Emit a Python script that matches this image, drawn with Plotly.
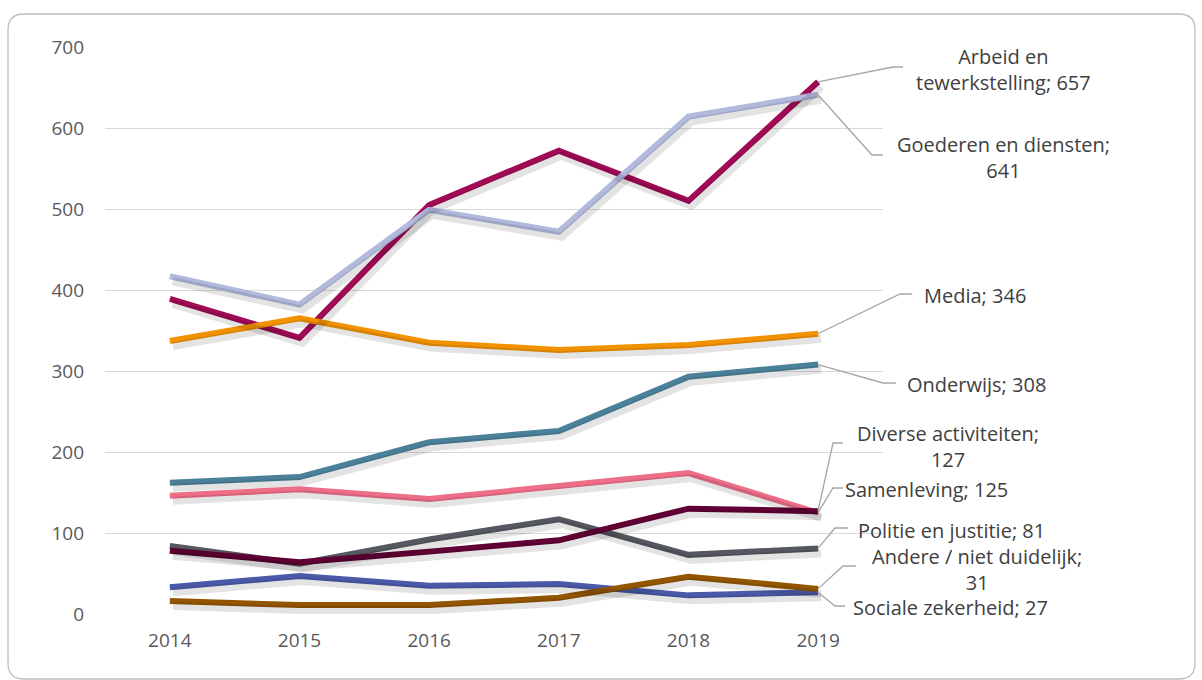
import plotly.graph_objects as go

years = ["2014", "2015", "2016", "2017", "2018", "2019"]

arbeid = [389, 341, 505, 572, 510, 657]
goederen = [417, 382, 499, 472, 614, 641]
media = [337, 365, 335, 326, 332, 346]
onderwijs = [162, 169, 212, 226, 293, 308]
samenleving = [146, 154, 142, 158, 174, 125]
politie = [84, 62, 92, 117, 73, 81]
diverse = [78, 64, 77, 91, 130, 127]
sociale = [33, 47, 35, 37, 23, 27]
andere = [16, 11, 11, 20, 46, 31]

series = [
    ("Arbeid en tewerkstelling", arbeid, "#A10A55"),
    ("Goederen en diensten", goederen, "#B1B9DD"),
    ("Media", media, "#F39200"),
    ("Onderwijs", onderwijs, "#4A8099"),
    ("Samenleving", samenleving, "#EE6E88"),
    ("Politie en justitie", politie, "#55585F"),
    ("Diverse activiteiten", diverse, "#600034"),
    ("Sociale zekerheid", sociale, "#4B5AA8"),
    ("Andere / niet duidelijk", andere, "#935500"),
]

# label text, label anchor position (pixels), leader path (pixels, after the data point)
labels = {
    "Arbeid en tewerkstelling": ("Arbeid en<br>tewerkstelling; 657", 1003, 69, "center", [(893, 67), (903, 67)]),
    "Goederen en diensten": ("Goederen en diensten;<br>641", 1003, 157, "center", [(872, 155), (883, 155)]),
    "Media": ("Media; 346", 922, 295, "left", [(900, 294), (912, 294)]),
    "Onderwijs": ("Onderwijs; 308", 905, 384, "left", [(883, 383), (896, 383)]),
    "Diverse activiteiten": ("Diverse activiteiten;<br>127", 948, 446, "center", [(833, 443), (843, 443)]),
    "Samenleving": ("Samenleving; 125", 843, 489, "left", [(833, 488), (843, 488)]),
    "Politie en justitie": ("Politie en justitie; 81", 856, 530, "left", [(835, 528), (848, 528)]),
    "Andere / niet duidelijk": ("Andere / niet duidelijk;<br>31", 977, 569, "center", [(843, 566), (856, 566)]),
    "Sociale zekerheid": ("Sociale zekerheid; 27", 851, 607, "left", [(835, 606), (845, 606)]),
}

W, H = 1202, 680
L, R, T, B = 105, 883, 47, 614
YMAX = 700
FONT = "Open Sans, sans-serif"


def px(x):
    return (x - L) / (R - L)


def py(y):
    return (B - y) / (B - T)


fig = go.Figure()

# soft drop shadows drawn on slightly offset overlay axes
for name, vals, col in series:
    fig.add_trace(go.Scatter(x=years, y=vals, mode="lines", xaxis="x2", yaxis="y2",
                             line=dict(color="rgba(0,0,0,0.11)", width=8),
                             hoverinfo="skip", showlegend=False))

for name, vals, col in series:
    fig.add_trace(go.Scatter(x=years, y=vals, mode="lines", name=name,
                             line=dict(color=col, width=6), showlegend=False))

shapes = []
annotations = []
for name, vals, col in series:
    text, ax_, ay_, align, path = labels[name]
    x0 = 818
    y0 = B - vals[-1] / YMAX * (B - T)
    pts = [(x0, y0)] + path
    d = "M " + " L ".join(f"{px(a):.5f},{py(b):.5f}" for a, b in pts)
    shapes.append(dict(type="path", xref="paper", yref="paper", path=d,
                       line=dict(color="#A6A6A6", width=1.3)))
    annotations.append(dict(xref="paper", yref="paper", x=px(ax_), y=py(ay_),
                            text=text, showarrow=False, align="center",
                            xanchor=align, yanchor="middle",
                            font=dict(family=FONT, size=20, color="#404040")))

# outer rounded border
x1, x2, y1, y2, r = 8, 1195, 14, 679, 16
rp = [
    f"M {px(x1 + r)},{py(y1)}",
    f"L {px(x2 - r)},{py(y1)}",
    f"Q {px(x2)},{py(y1)} {px(x2)},{py(y1 + r)}",
    f"L {px(x2)},{py(y2 - r)}",
    f"Q {px(x2)},{py(y2)} {px(x2 - r)},{py(y2)}",
    f"L {px(x1 + r)},{py(y2)}",
    f"Q {px(x1)},{py(y2)} {px(x1)},{py(y2 - r)}",
    f"L {px(x1)},{py(y1 + r)}",
    f"Q {px(x1)},{py(y1)} {px(x1 + r)},{py(y1)} Z",
]
shapes.append(dict(type="path", xref="paper", yref="paper", path=" ".join(rp),
                   line=dict(color="#BFBFBF", width=1.3), layer="below"))

sx = 3 / (R - L) * 6
sy = 5 / (B - T) * YMAX

fig.update_layout(
    width=W, height=H,
    margin=dict(l=L, r=W - R, t=T, b=H - B, pad=0),
    paper_bgcolor="white", plot_bgcolor="white",
    font=dict(family=FONT, color="#595959"),
    xaxis=dict(range=[-0.5, 5.5], type="category", showgrid=False, zeroline=False,
               showline=False, ticks="", tickfont=dict(size=19, color="#595959"),
               ticklabelstandoff=13),
    yaxis=dict(range=[0, YMAX], tickvals=[0, 100, 200, 300, 400, 500, 600, 700],
               showgrid=True, gridcolor="#D9D9D9", gridwidth=1, zeroline=False,
               showline=False, ticks="", tickfont=dict(size=19, color="#595959"),
               ticklabelstandoff=20),
    xaxis2=dict(range=[-0.5 - sx, 5.5 - sx], type="category", overlaying="x",
                anchor="y2", visible=False),
    yaxis2=dict(range=[sy, YMAX + sy], overlaying="y", anchor="x2", visible=False),
    shapes=shapes,
    annotations=annotations,
)

fig.write_html("out.html", config={"displayModeBar": False},
               post_script="document.body.style.margin='0';document.body.style.overflow='hidden';")
